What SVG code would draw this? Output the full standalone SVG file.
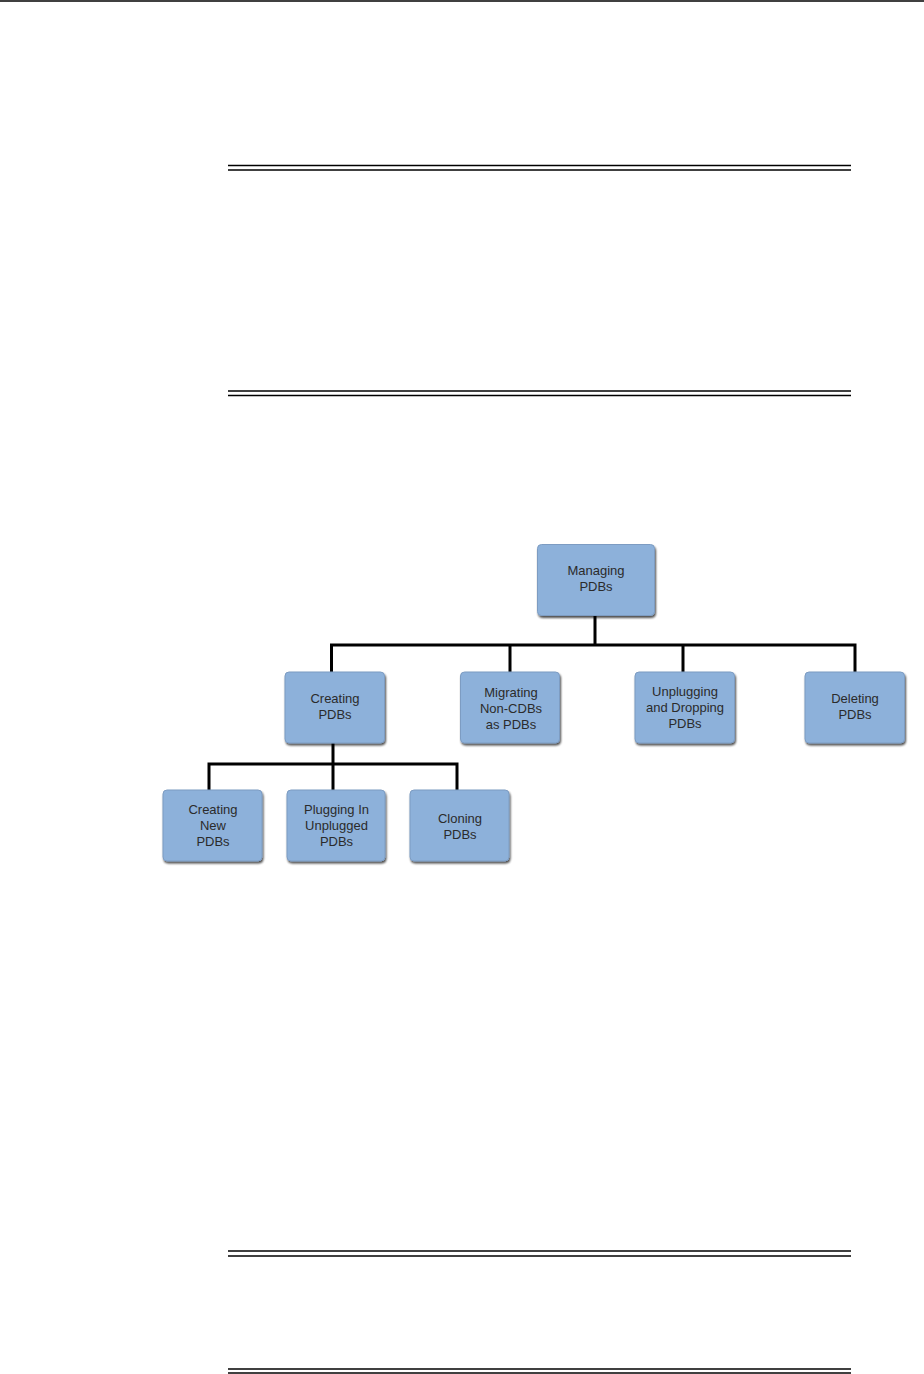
<svg xmlns="http://www.w3.org/2000/svg" width="924" height="1374" viewBox="0 0 924 1374">
<style>
.rule{stroke:#000;stroke-width:1.3;fill:none}
.box{fill:#8db1da;stroke:#7d9cc2;stroke-width:1;filter:url(#sh)}
.lbl{font-family:"Liberation Sans",Arial,sans-serif;font-size:13px;fill:#2b2b2b;text-anchor:middle}
.con{stroke:#000;stroke-width:3;fill:none}
</style>
<defs>
<filter id="sh" x="-10%" y="-10%" width="125%" height="130%">
<feGaussianBlur in="SourceAlpha" stdDeviation="1.2"/>
<feOffset dx="1" dy="2" result="b"/>
<feComponentTransfer><feFuncA type="linear" slope="0.7"/></feComponentTransfer>
<feMerge><feMergeNode/><feMergeNode in="SourceGraphic"/></feMerge>
</filter>
</defs>
<rect width="924" height="1374" fill="#fff"/>
<line class="rule" x1="0" y1="1" x2="924" y2="1"/>
<line class="rule" x1="228" y1="165.5" x2="851" y2="165.5"/>
<line class="rule" x1="228" y1="170" x2="851" y2="170"/>
<line class="rule" x1="228" y1="391" x2="851" y2="391"/>
<line class="rule" x1="228" y1="395.5" x2="851" y2="395.5"/>
<line class="rule" x1="228" y1="1251" x2="851" y2="1251"/>
<line class="rule" x1="228" y1="1256" x2="851" y2="1256"/>
<line class="rule" x1="228" y1="1369" x2="851" y2="1369"/>
<line class="rule" x1="228" y1="1373" x2="851" y2="1373"/>
<g id="connectors">
<path class="con" d="M595 615V645M331.5 672V645H855V672M510 645V672M683 645V672"/>
<path class="con" d="M333 743V764M209 790V764H457V790M333 764V790"/>
</g>
<g id="managing"><rect class="box" x="537.5" y="544.5" width="117" height="71" rx="4"/><text class="lbl" x="596" y="575">Managing</text><text class="lbl" x="596" y="591">PDBs</text></g>
<g id="creating"><rect class="box" x="285" y="672" width="99.5" height="71" rx="4"/><text class="lbl" x="335" y="703">Creating</text><text class="lbl" x="335" y="719">PDBs</text></g>
<g id="migrating"><rect class="box" x="460.5" y="672" width="99" height="71" rx="4"/><text class="lbl" x="511" y="697">Migrating</text><text class="lbl" x="511" y="713">Non-CDBs</text><text class="lbl" x="511" y="729">as PDBs</text></g>
<g id="unplugging"><rect class="box" x="635" y="672" width="99.5" height="71" rx="4"/><text class="lbl" x="685" y="696">Unplugging</text><text class="lbl" x="685" y="712">and Dropping</text><text class="lbl" x="685" y="728">PDBs</text></g>
<g id="deleting"><rect class="box" x="805" y="672" width="99.5" height="71" rx="4"/><text class="lbl" x="855" y="703">Deleting</text><text class="lbl" x="855" y="719">PDBs</text></g>
<g id="creatingnew"><rect class="box" x="163" y="790" width="99" height="71" rx="4"/><text class="lbl" x="213" y="814">Creating</text><text class="lbl" x="213" y="830">New</text><text class="lbl" x="213" y="846">PDBs</text></g>
<g id="plugging"><rect class="box" x="287" y="790" width="98" height="71" rx="4"/><text class="lbl" x="336.5" y="814">Plugging In</text><text class="lbl" x="336.5" y="830">Unplugged</text><text class="lbl" x="336.5" y="846">PDBs</text></g>
<g id="cloning"><rect class="box" x="410" y="790" width="99" height="71" rx="4"/><text class="lbl" x="460" y="823">Cloning</text><text class="lbl" x="460" y="839">PDBs</text></g>
</svg>
